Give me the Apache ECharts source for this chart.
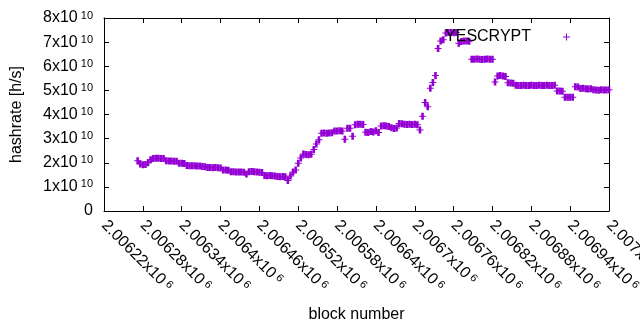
<!DOCTYPE html>
<html>
<head>
<meta charset="utf-8">
<script src="https://cdn.jsdelivr.net/npm/echarts@6/dist/echarts.min.js"></script>
<style>
  html, body { margin: 0; padding: 0; background: #fff; }
  #chart { width: 640px; height: 330px; }
</style>
</head>
<body>
<div id="chart"></div>
<script>
// tick labels (mantissa part, exponent drawn as superscript)
const xTickLabels = ['2.00622', '2.00628', '2.00634', '2.0064', '2.00646', '2.00652', '2.00658',
    '2.00664', '2.0067', '2.00676', '2.00682', '2.00688', '2.00694', '2.007'];
const yTickLabels = ['0', '1', '2', '3', '4', '5', '6', '7', '8'];

// block numbers
const blocks = [
    2006272, 2006276, 2006280, 2006284, 2006288, 2006292, 2006296, 2006300, 2006304, 2006308,
    2006312, 2006316, 2006320, 2006324, 2006328, 2006332, 2006336, 2006340, 2006344, 2006348,
    2006352, 2006356, 2006360, 2006364, 2006368, 2006372, 2006376, 2006380, 2006384, 2006388,
    2006392, 2006396, 2006400, 2006404, 2006408, 2006412, 2006416, 2006420, 2006424, 2006428,
    2006432, 2006436, 2006440, 2006444, 2006448, 2006452, 2006456, 2006460, 2006464, 2006468,
    2006472, 2006476, 2006480, 2006484, 2006488, 2006492, 2006496, 2006500, 2006504, 2006508,
    2006512, 2006516, 2006520, 2006524, 2006528, 2006532, 2006536, 2006540, 2006544, 2006548,
    2006552, 2006556, 2006560, 2006564, 2006568, 2006572, 2006576, 2006580, 2006584, 2006588,
    2006592, 2006596, 2006600, 2006604, 2006608, 2006612, 2006616, 2006620, 2006624, 2006628,
    2006632, 2006636, 2006640, 2006644, 2006648, 2006652, 2006656, 2006660, 2006664, 2006668,
    2006672, 2006676, 2006680, 2006684, 2006688, 2006692, 2006696, 2006700, 2006704, 2006708,
    2006712, 2006716, 2006720, 2006724, 2006728, 2006732, 2006736, 2006740, 2006744, 2006748,
    2006752, 2006756, 2006760, 2006764, 2006768, 2006772, 2006776, 2006780, 2006784, 2006788,
    2006792, 2006796, 2006800, 2006804, 2006808, 2006812, 2006816, 2006820, 2006824, 2006828,
    2006832, 2006836, 2006840, 2006844, 2006848, 2006852, 2006856, 2006860, 2006864, 2006868,
    2006872, 2006876, 2006880, 2006884, 2006888, 2006892, 2006896, 2006900, 2006904, 2006908,
    2006912, 2006916, 2006920, 2006924, 2006928, 2006932, 2006936, 2006940, 2006944, 2006948,
    2006952, 2006956, 2006960, 2006964, 2006968, 2006972, 2006976, 2006980, 2006984, 2006988,
    2006992, 2006996, 2007000
];

// hashrate in units of 1e10 h/s
const hashrateE10 = [
    2.08, 1.95, 1.92, 1.93, 2.00, 2.12, 2.18, 2.19, 2.19, 2.18,
    2.18, 2.08, 2.07, 2.07, 2.06, 2.06, 1.98, 1.98, 1.97, 1.89,
    1.88, 1.88, 1.88, 1.87, 1.87, 1.84, 1.83, 1.80, 1.80, 1.79,
    1.80, 1.79, 1.78, 1.70, 1.70, 1.69, 1.63, 1.63, 1.62, 1.62,
    1.62, 1.61, 1.53, 1.63, 1.64, 1.63, 1.62, 1.61, 1.60, 1.47,
    1.46, 1.47, 1.46, 1.45, 1.43, 1.42, 1.43, 1.42, 1.26, 1.45,
    1.62, 1.70, 1.98, 2.20, 2.36, 2.34, 2.33, 2.35, 2.55, 2.78,
    2.95, 3.22, 3.23, 3.22, 3.23, 3.24, 3.32, 3.32, 3.33, 3.32,
    2.97, 3.43, 3.43, 3.10, 3.58, 3.60, 3.60, 3.59, 3.26, 3.25,
    3.30, 3.27, 3.33, 3.25, 3.52, 3.53, 3.52, 3.50, 3.45, 3.42,
    3.44, 3.63, 3.62, 3.60, 3.59, 3.60, 3.59, 3.60, 3.58, 3.36,
    3.93, 4.50, 4.32, 5.09, 5.33, 5.62, 6.74, 7.05, 7.10, 7.38,
    7.40, 7.40, 7.39, 7.40, 6.95, 7.03, 7.05, 7.05, 7.04, 6.29,
    6.29, 6.30, 6.29, 6.28, 6.29, 6.30, 6.29, 6.29, 5.35, 5.60,
    5.62, 5.60, 5.58, 5.32, 5.31, 5.30, 5.21, 5.20, 5.20, 5.21,
    5.20, 5.20, 5.21, 5.20, 5.20, 5.21, 5.20, 5.20, 5.21, 5.20,
    5.20, 5.21, 4.97, 4.97, 4.96, 4.72, 4.71, 4.71, 4.72, 5.15,
    5.14, 5.08, 5.09, 5.07, 5.06, 5.07, 5.03, 5.02, 5.01, 5.03,
    5.02, 5.02, 5.03
];

const X_MIN = 2006220, X_MAX = 2007000, X_STEP = 60;
const Y_MIN = 0, Y_MAX = 8e10, Y_STEP = 1e10;
const PURPLE = '#9400d3';
const FONT = 'Liberation Sans, Arial, sans-serif';

const chart = echarts.init(document.getElementById('chart'), null, { renderer: 'canvas' });

const supRich = {
    b: { fontSize: 16, fontFamily: FONT, color: '#000', lineHeight: 16, padding: [5, 0, 0, 0], verticalAlign: 'bottom' },
    s: { fontSize: 11, fontFamily: FONT, color: '#000', lineHeight: 11, padding: [0, 0, 0, 3], verticalAlign: 'top' }
};

const points = blocks.map((b, i) => [b, hashrateE10[i] * 1e10]);

const plusThick = 'path://M2.2,0H4.8V3H7V4H4.8V7H2.2V4H0V3H2.2Z';
const plusThin = 'path://M3,0H4V3H7V4H4V7H3V4H0V3H3Z';

const axisLineStyle = { color: '#000', width: 1 };

const option = {
    animation: false,
    backgroundColor: '#fff',
    grid: { left: 104, right: 31, top: 18, bottom: 119, outerBoundsMode: 'none', containLabel: false },
    legend: {
        data: [{ name: 'YESCRYPT', icon: plusThin }],
        right: 65,
        top: 24,
        align: 'right',
        itemWidth: 7,
        itemHeight: 7,
        textStyle: { fontSize: 16, fontFamily: FONT, color: '#000', padding: [0, 27, 0, 0] }
    },
    xAxis: [
        {
            type: 'value',
            min: X_MIN, max: X_MAX, interval: X_STEP,
            position: 'bottom',
            name: 'block number',
            nameLocation: 'middle',
            nameGap: 96,
            nameTextStyle: { fontSize: 16, fontFamily: FONT, color: '#000' },
            axisLine: { show: true, onZero: false, lineStyle: axisLineStyle },
            axisTick: { show: true, inside: true, length: 5, lineStyle: axisLineStyle },
            splitLine: { show: false },
            axisLabel: {
                rotate: -45,
                margin: 12,
                hideOverlap: false,
                formatter: v => {
                    const lbl = xTickLabels[Math.round((v - X_MIN) / X_STEP)];
                    return '{b|' + lbl + 'x10}{s|6}';
                },
                rich: supRich
            }
        },
        {
            type: 'value',
            min: X_MIN, max: X_MAX, interval: X_STEP,
            position: 'top',
            axisLine: { show: true, onZero: false, lineStyle: axisLineStyle },
            axisTick: { show: true, inside: true, length: 5, lineStyle: axisLineStyle },
            axisLabel: { show: false },
            splitLine: { show: false }
        }
    ],
    yAxis: [
        {
            type: 'value',
            min: Y_MIN, max: Y_MAX, interval: Y_STEP,
            position: 'left',
            name: 'hashrate [h/s]',
            nameLocation: 'middle',
            nameGap: 79,
            nameTextStyle: { fontSize: 16, fontFamily: FONT, color: '#000' },
            axisLine: { show: true, onZero: false, lineStyle: axisLineStyle },
            axisTick: { show: true, inside: true, length: 5, lineStyle: axisLineStyle },
            splitLine: { show: false },
            axisLabel: {
                margin: 11,
                formatter: v => {
                    const lbl = yTickLabels[Math.round((v - Y_MIN) / Y_STEP)];
                    if (lbl === '0') return '{b|0}';
                    return '{b|' + lbl + 'x10}{s|10}';
                },
                rich: supRich
            }
        },
        {
            type: 'value',
            min: Y_MIN, max: Y_MAX, interval: Y_STEP,
            position: 'right',
            axisLine: { show: true, onZero: false, lineStyle: axisLineStyle },
            axisTick: { show: true, inside: true, length: 5, lineStyle: axisLineStyle },
            axisLabel: { show: false },
            splitLine: { show: false }
        }
    ],
    series: [
        {
            name: 'YESCRYPT',
            type: 'scatter',
            xAxisIndex: 0,
            yAxisIndex: 0,
            symbol: plusThick,
            symbolSize: 7,
            itemStyle: { color: PURPLE, opacity: 1 },
            data: points
        }
    ]
};

chart.setOption(option);
window.addEventListener('resize', () => chart.resize());
</script>
</body>
</html>
